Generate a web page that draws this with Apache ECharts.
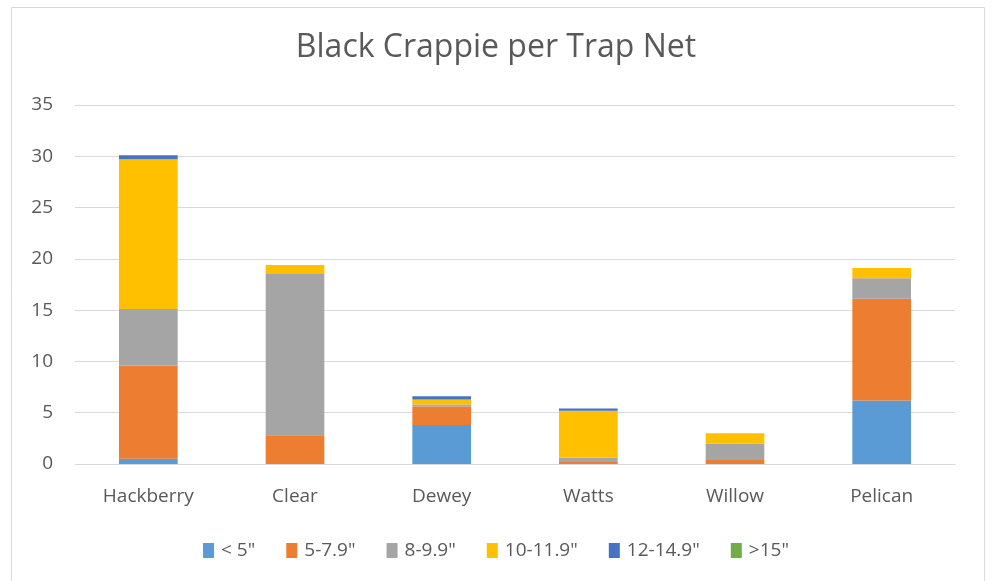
<!DOCTYPE html>
<html><head><meta charset="utf-8">
<script src="https://cdn.jsdelivr.net/npm/echarts@6/dist/echarts.min.js"></script>
<style>html,body{margin:0;padding:0;background:#fff}#c{width:992px;height:581px}</style>
</head><body><div id="c"></div>
<script>
const categories = ["Hackberry","Clear","Dewey","Watts","Willow","Pelican"];
const seriesNames = ['< 5"','5-7.9"','8-9.9"','10-11.9"','12-14.9"','>15"'];
const lt5 = [0.5, 0, 3.8, 0, 0, 6.2];
const s5to8 = [9.1, 2.8, 1.8, 0.2, 0.4, 9.9];
const s8to10 = [5.5, 15.8, 0.2, 0.4, 1.6, 2.0];
const s10to12 = [14.6, 0.8, 0.5, 4.6, 1.0, 1.0];
const s12to15 = [0.4, 0, 0.3, 0.2, 0, 0];
const gt15 = [0, 0, 0, 0, 0, 0];
const yTicks = [0,5,10,15,20,25,30,35];
const colors = ['#5b9bd5','#ed7d31','#a5a5a5','#ffc000','#4472c4','#70ad47'];
const allData = [lt5, s5to8, s8to10, s10to12, s12to15, gt15];
const font = '"Open Sans", "Liberation Sans", sans-serif';
const chart = echarts.init(document.getElementById('c'));
chart.setOption({
  animation:false,
  title:{text:'Black Crappie per Trap Net',left:'center',top:27,
    textStyle:{fontFamily:font,fontSize:32,fontWeight:'normal',color:'#595959'}},
  graphic:[{type:'rect',shape:{x:11.5,y:7.5,width:973,height:580},
    style:{fill:'none',stroke:'#d9d9d9',lineWidth:1},silent:true}],
  legend:{bottom:16,left:'center',itemWidth:11,itemHeight:15,itemGap:31,
    icon:'rect',textStyle:{fontFamily:font,fontSize:19,color:'#595959',padding:[0,0,0,2]},
    data:seriesNames},
  grid:{left:75,right:37,top:105,bottom:117},
  xAxis:{type:'category',data:categories,
    axisLine:{lineStyle:{color:'#d9d9d9',width:1}},axisTick:{show:false},
    axisLabel:{fontFamily:font,fontSize:19,color:'#595959',margin:23}},
  yAxis:{type:'value',min:0,max:35,interval:5,
    axisLine:{show:false},axisTick:{show:false},
    splitLine:{lineStyle:{color:'#d9d9d9',width:1}},
    axisLabel:{fontFamily:font,fontSize:19,color:'#595959',margin:22,
      formatter:v=>yTicks.includes(v)?String(v):''}},
  series: seriesNames.map((n,i)=>({name:n,type:'bar',stack:'t',barWidth:'40%',
    itemStyle:{color:colors[i]},data:allData[i]}))
});
</script></body></html>
